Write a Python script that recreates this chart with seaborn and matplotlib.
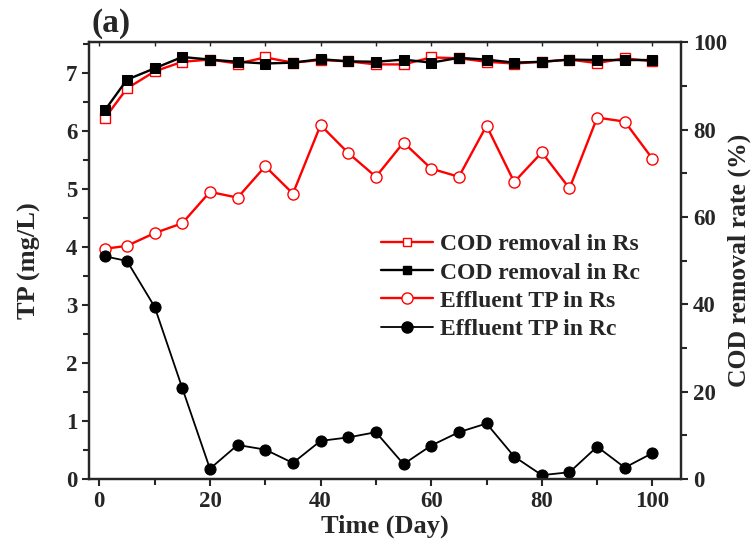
import numpy as np
import pandas as pd
import seaborn as sns
import matplotlib.pyplot as plt
from matplotlib.ticker import MultipleLocator
from matplotlib.lines import Line2D

# data
days = [1, 5, 10, 15, 20, 25, 30, 35, 40, 45, 50, 55, 60, 65, 70, 75, 80, 85, 90, 95, 100]
tp_rs = [3.97, 4.02, 4.24, 4.41, 4.95, 4.85, 5.39, 4.92, 6.10, 5.62, 5.21, 5.80,
         5.35, 5.21, 6.09, 5.12, 5.63, 5.01, 6.23, 6.16, 5.52]
tp_rc = [3.84, 3.76, 2.97, 1.57, 0.18, 0.59, 0.51, 0.28, 0.66, 0.72, 0.81, 0.26,
         0.58, 0.81, 0.96, 0.39, 0.07, 0.12, 0.56, 0.20, 0.45]
cod_rs = [82.6, 89.4, 93.3, 95.5, 96.0, 95.1, 96.5, 95.3, 95.9, 95.6, 94.9, 94.9,
          96.5, 96.3, 95.5, 95.1, 95.5, 96.0, 95.2, 96.3, 95.6]
cod_rc = [84.4, 91.4, 94.0, 96.6, 96.0, 95.5, 95.1, 95.3, 96.1, 95.6, 95.5, 96.0,
          95.3, 96.4, 96.0, 95.3, 95.5, 96.0, 95.9, 95.9, 95.9]

df = pd.DataFrame({"day": days, "tp_rs": tp_rs, "tp_rc": tp_rc,
                   "cod_rs": cod_rs, "cod_rc": cod_rc})

sns.set_style("ticks")
plt.rcParams["font.family"] = ["Liberation Serif", "DejaVu Serif"]
plt.rcParams["font.weight"] = "bold"
plt.rcParams["axes.labelweight"] = "bold"

fig = plt.figure(figsize=(7.54, 5.54), dpi=100)
ax = fig.add_axes([0.1185, 0.135, 0.785, 0.789])
ax2 = ax.twinx()

# TP on left axis
sns.lineplot(data=df, x="day", y="tp_rs", ax=ax, color="red", lw=1.7,
             marker="o", markersize=8, markerfacecolor="white",
             markeredgecolor="red", markeredgewidth=1.0, zorder=3)
sns.lineplot(data=df, x="day", y="tp_rc", ax=ax, color="black", lw=1.3,
             marker="o", markersize=8, markerfacecolor="black",
             markeredgecolor="black", zorder=3)

# COD removal on right axis
sns.lineplot(data=df, x="day", y="cod_rs", ax=ax2, color="red", lw=1.7,
             marker="s", markersize=7, markerfacecolor="white",
             markeredgecolor="red", markeredgewidth=1.0)
sns.lineplot(data=df, x="day", y="cod_rc", ax=ax2, color="black", lw=1.7,
             marker="s", markersize=7, markerfacecolor="black",
             markeredgecolor="black")

ax.set_xlim(-1.8, 105.2)
ax.set_ylim(0, 7.53)
ax2.set_ylim(0, 100)
ax.set_xticks([0, 20, 40, 60, 80, 100])
ax.xaxis.set_minor_locator(MultipleLocator(10))
ax.yaxis.set_minor_locator(MultipleLocator(0.5))
ax.set_yticks([0, 1, 2, 3, 4, 5, 6, 7])
ax2.set_yticks([0, 20, 40, 60, 80, 100])
ax2.yaxis.set_minor_locator(MultipleLocator(10))

for a in (ax, ax2):
    for s in a.spines.values():
        s.set_linewidth(1.6)
    a.tick_params(which="both", direction="out", width=1.5, labelsize=16.5)
    a.tick_params(which="major", length=5)
    a.tick_params(which="minor", length=4)

top = ax.secondary_xaxis("top")
top.set_xticks([0, 20, 40, 60, 80, 100])
top.xaxis.set_minor_locator(MultipleLocator(10))
top.tick_params(which="both", direction="in", length=3, width=1.0, labeltop=False)

ax.set_xlabel("Time (Day)", fontsize=19, fontweight="bold", labelpad=2)
ax.set_ylabel("TP (mg/L)", fontsize=19, fontweight="bold", labelpad=18)
ax2.set_ylabel("COD removal rate (%)", fontsize=18.5, fontweight="bold", labelpad=0)

handles = [
    Line2D([], [], color="red", lw=1.7, marker="s", markersize=6,
           markerfacecolor="white", markeredgecolor="red"),
    Line2D([], [], color="black", lw=1.7, marker="s", markersize=6,
           markerfacecolor="black", markeredgecolor="black"),
    Line2D([], [], color="red", lw=1.7, marker="o", markersize=8,
           markerfacecolor="white", markeredgecolor="red"),
    Line2D([], [], color="black", lw=1.3, marker="o", markersize=8,
           markerfacecolor="black", markeredgecolor="black"),
]
labels = ["COD removal in Rs", "COD removal in Rc",
          "Effluent TP in Rs", "Effluent TP in Rc"]
ax2.legend(handles, labels, loc="center left", bbox_to_anchor=(0.493, 0.44),
           frameon=False, handlelength=2.2, handletextpad=0.3,
           labelspacing=0.28, borderpad=0, borderaxespad=0,
           prop={"weight": "bold", "size": 17})

fig.text(0.122, 0.958, "(a)", fontsize=24, fontweight="bold", va="center", ha="left")

fig.savefig("out.png", dpi=100)
